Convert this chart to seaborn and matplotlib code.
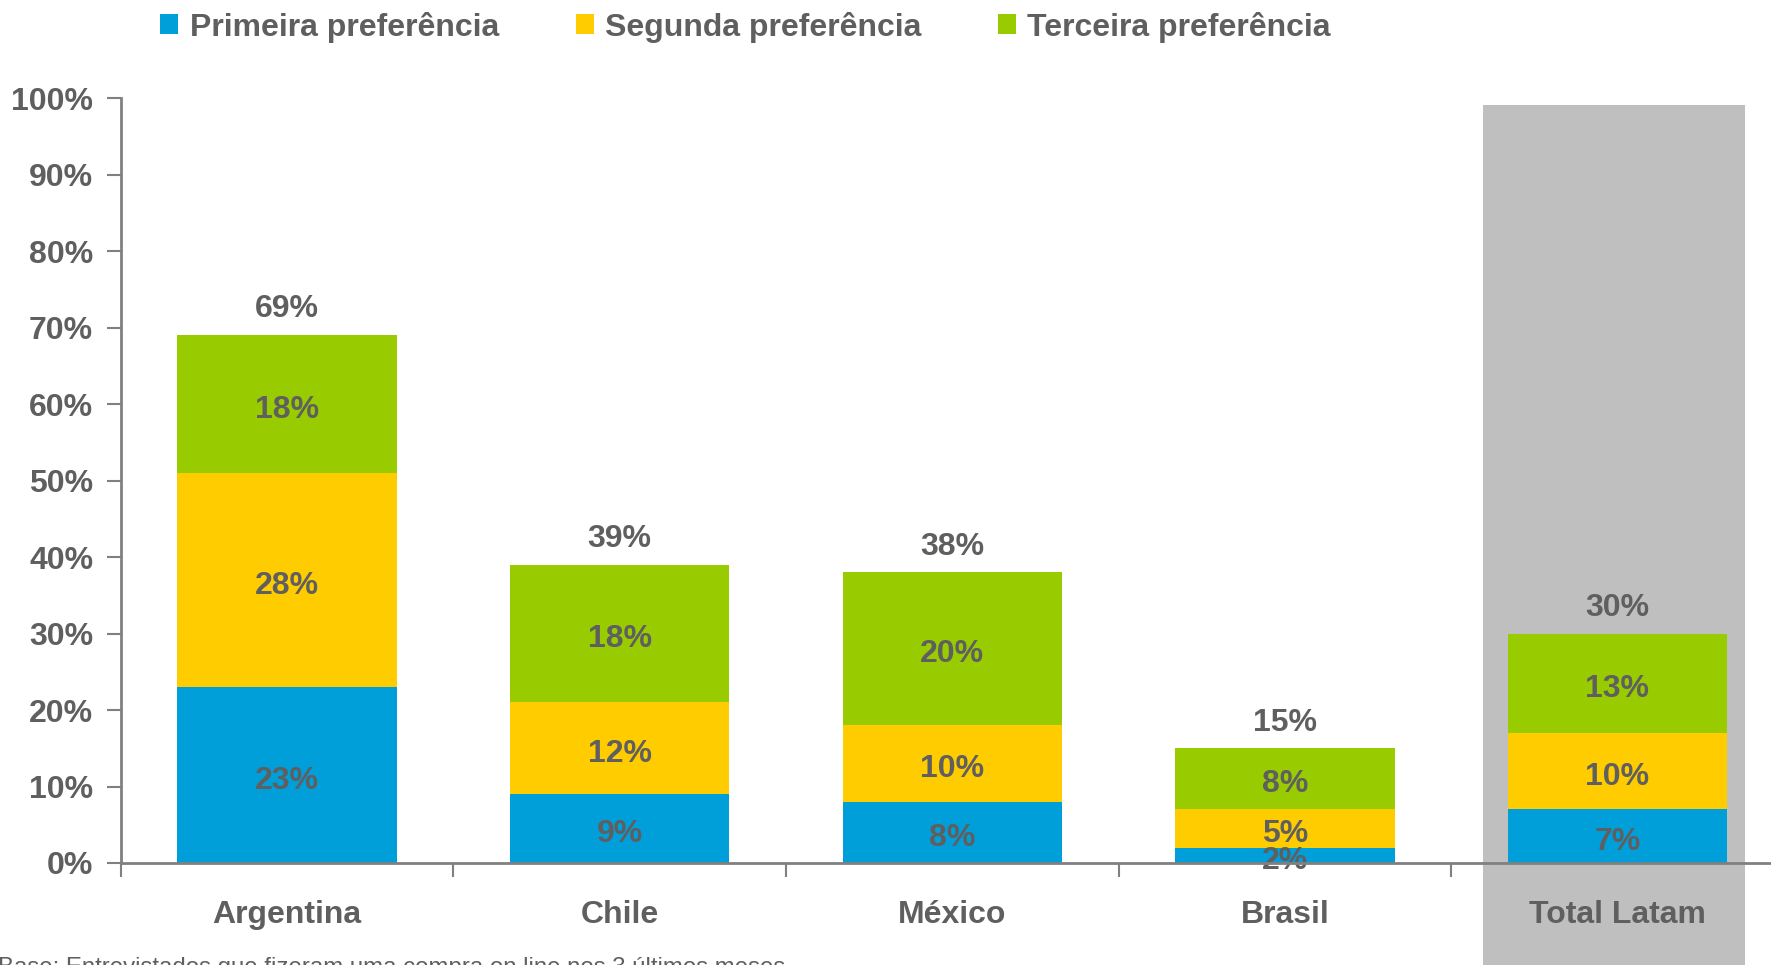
import matplotlib
matplotlib.use("Agg")
import matplotlib.pyplot as plt
import seaborn as sns
import numpy as np
from matplotlib.patches import Patch

categories = ["Argentina", "Chile", "México", "Brasil", "Total Latam"]
primeira = [23, 9, 8, 2, 7]
segunda = [28, 12, 10, 5, 10]
terceira = [18, 18, 20, 8, 13]
totais = [69, 39, 38, 15, 30]
series_names = ["Primeira preferência", "Segunda preferência", "Terceira preferência"]
yticks = [0, 10, 20, 30, 40, 50, 60, 70, 80, 90, 100]
footnote = "Base: Entrevistados que fizeram uma compra on line nos 3 últimos meses"

colors = ["#009FDA", "#FFCC00", "#99CC00"]
txt = "#5f5f5f"
axis_c = "#808080"

sns.set_style("white")
plt.rcParams["font.family"] = ["Liberation Sans", "DejaVu Sans"]
plt.rcParams["font.weight"] = "bold"

fig = plt.figure(figsize=(17.71, 9.65), dpi=100)
ax = fig.add_axes([0.0683, 0.1057, 0.9317, 0.7927])

p = np.array(primeira)
s = np.array(segunda)
t = np.array(terceira)
cum1 = p
cum2 = p + s
cum3 = p + s + t

# Gray highlight behind "Total Latam"
ax.axvspan(3.596, 4.384, ymin=-0.14, ymax=0.991, color="#BFBFBF",
           clip_on=False, zorder=0, lw=0)

for vals, col in [(cum3, colors[2]), (cum2, colors[1]), (cum1, colors[0])]:
    sns.barplot(x=categories, y=vals, color=col, saturation=1, width=0.66,
                ax=ax, zorder=2, linewidth=0)

# segment labels
for i in range(len(categories)):
    bottoms = [0, cum1[i], cum2[i]]
    for vals, b in zip([p, s, t], bottoms):
        ax.annotate(f"{vals[i]}%", (i, b + vals[i] / 2), xytext=(0, -4),
                    textcoords="offset points", ha="center", va="center",
                    fontsize=23, fontweight="bold", color=txt, zorder=5)
    ax.annotate(f"{totais[i]}%", (i, cum3[i]), xytext=(0, 18.5),
                textcoords="offset points", ha="center", va="center",
                fontsize=23, fontweight="bold", color=txt, zorder=5)

ax.set_xlim(-0.5, 4.462)
ax.set_ylim(0, 100)
ax.set_yticks(yticks)
ax.set_yticklabels([f"{v}%" for v in yticks])
ax.set_xticks(range(len(categories)))
ax.set_xticklabels(categories)
ax.set_xticks([-0.5, 0.5, 1.5, 2.5, 3.5], minor=True)
ax.tick_params(axis="x", which="major", length=0, pad=27, labelsize=23,
               labelcolor=txt)
ax.tick_params(axis="x", which="minor", length=10, width=1.5, color=axis_c,
               direction="out", bottom=True)
ax.tick_params(axis="y", which="major", length=10, width=1.5, color=axis_c,
               direction="out", left=True, pad=10, labelsize=23, labelcolor=txt)
for lab in ax.get_xticklabels() + ax.get_yticklabels():
    lab.set_fontweight("bold")

for side in ["top", "right"]:
    ax.spines[side].set_visible(False)
for side in ["left", "bottom"]:
    ax.spines[side].set_color(axis_c)
    ax.spines[side].set_linewidth(2)
    ax.spines[side].set_zorder(6)
ax.set_xlabel("")
ax.set_ylabel("")
ax.grid(False)

handles = [Patch(facecolor=c, edgecolor="none") for c in colors]
leg = fig.legend(handles, series_names, loc="center", bbox_to_anchor=(0.421, 0.972),
                 ncol=3, frameon=False, fontsize=23, handlelength=0.57,
                 handleheight=0.57, handletextpad=0.35, columnspacing=2.4,
                 borderpad=0, borderaxespad=0)
for tx in leg.get_texts():
    tx.set_color(txt)
    tx.set_fontweight("bold")

fig.text(-0.001, 1 - 957 / 965, footnote, ha="left", va="top", fontsize=17.3,
         fontweight="normal", color=txt)

fig.savefig("out.png", dpi=100)
